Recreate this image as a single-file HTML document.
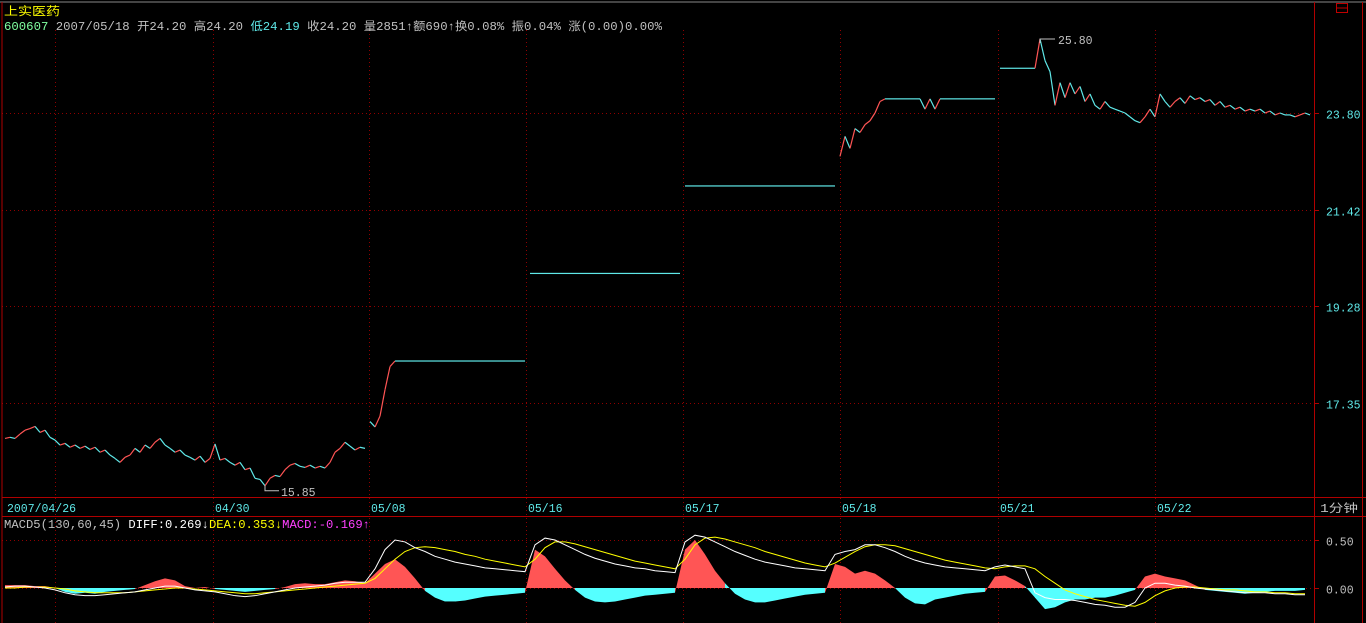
<!DOCTYPE html>
<html><head><meta charset="utf-8">
<style>
html,body{margin:0;padding:0;background:#000;width:1366px;height:623px;overflow:hidden}
svg{display:block}
text{font-family:"Liberation Mono","Noto Sans CJK SC",monospace;font-size:11.5px}
</style></head>
<body>
<svg id="chart" width="1366" height="623" viewBox="0 0 1366 623" xmlns="http://www.w3.org/2000/svg">
<rect x="0" y="0" width="1366" height="623" fill="#000"/>
<g id="grid"></g>
<g id="frame">
<line x1="0" y1="2" x2="1366" y2="2" stroke="#888" stroke-width="1"/>
<line x1="2" y1="2" x2="2" y2="623" stroke="#b00000"/>
<line x1="1314.5" y1="2" x2="1314.5" y2="623" stroke="#b00000"/>
<line x1="1362.5" y1="2" x2="1362.5" y2="623" stroke="#b00000"/>
<line x1="2" y1="497.5" x2="1366" y2="497.5" stroke="#b00000"/>
<line x1="2" y1="516.5" x2="1366" y2="516.5" stroke="#b00000"/>
</g>
<text x="4" y="15" fill="#ffff00" font-size="13" textLength="56" lengthAdjust="spacingAndGlyphs">上实医药</text>
<text x="4" y="30" textLength="658" lengthAdjust="spacingAndGlyphs"><tspan fill="#80ffa0">600607</tspan><tspan fill="#c0c0c0"> 2007/05/18 开24.20 高24.20 </tspan><tspan fill="#5fe8e8">低24.19</tspan><tspan fill="#c0c0c0"> 收24.20 量2851↑额690↑换0.08% 振0.04% 涨(0.00)0.00%</tspan></text>
<rect x="1336.5" y="3.5" width="11" height="9" fill="none" stroke="#c00000"/>
<line x1="1336" y1="8" x2="1348" y2="8" stroke="#c00000"/>
<text x="1320" y="512" fill="#c0c0c0" textLength="38" lengthAdjust="spacingAndGlyphs">1分钟</text>
<text x="4" y="528" textLength="366" lengthAdjust="spacingAndGlyphs"><tspan fill="#c0c0c0">MACD5(130,60,45) </tspan><tspan fill="#ffffff">DIFF:0.269↓</tspan><tspan fill="#ffff00">DEA:0.353↓</tspan><tspan fill="#ff40ff">MACD:-0.169↑</tspan></text>
<g id="yaxis"></g>
<g id="xaxis"></g>
<g id="price"></g>
<g id="macd"></g>
<g id="ann"></g>
</svg>
<script>
const priceTicks=[23.80,21.42,19.28,17.35];
const macdTicks=[0.50,0.00];
const dateLabels=["2007/04/26","04/30","05/08","05/16","05/17","05/18","05/21","05/22"];
const dateIdx=[0,41.6,72.8,104.2,135.6,167,198.6,230];
const gapIdx=[72.8,104.2,135.6,167,198.6];
const prices=[16.69,16.71,16.69,16.77,16.84,16.87,16.91,16.80,16.84,16.71,16.66,16.57,16.60,16.53,16.57,16.51,16.55,16.49,16.53,16.44,16.48,16.39,16.33,16.26,16.35,16.39,16.51,16.44,16.57,16.51,16.62,16.69,16.57,16.51,16.44,16.48,16.39,16.35,16.30,16.37,16.26,16.33,
16.59,16.30,16.33,16.26,16.21,16.26,16.13,16.16,15.98,15.96,15.85,15.98,16.03,16.01,16.13,16.21,16.24,16.19,16.17,16.21,16.16,16.19,16.16,16.26,16.44,16.51,16.62,16.55,16.48,16.53,16.51,
17.00,16.90,17.10,17.60,18.05,18.16,18.16,18.16,18.16,18.16,18.16,18.16,18.16,18.16,18.16,18.16,18.16,18.16,18.16,18.16,18.16,18.16,18.16,18.16,18.16,18.16,18.16,18.16,18.16,18.16,18.16,18.16,
19.98,19.98,19.98,19.98,19.98,19.98,19.98,19.98,19.98,19.98,19.98,19.98,19.98,19.98,19.98,19.98,19.98,19.98,19.98,19.98,19.98,19.98,19.98,19.98,19.98,19.98,19.98,19.98,19.98,19.98,19.98,
21.98,21.98,21.98,21.98,21.98,21.98,21.98,21.98,21.98,21.98,21.98,21.98,21.98,21.98,21.98,21.98,21.98,21.98,21.98,21.98,21.98,21.98,21.98,21.98,21.98,21.98,21.98,21.98,21.98,21.98,21.98,
22.70,23.20,22.90,23.40,23.30,23.50,23.60,23.80,24.10,24.17,24.17,24.17,24.17,24.17,24.17,24.17,24.17,23.90,24.17,23.90,24.17,24.17,24.17,24.17,24.17,24.17,24.17,24.17,24.17,24.17,24.17,24.17,
24.99,24.99,24.99,24.99,24.99,24.99,24.99,24.99,25.80,25.20,24.90,24.00,24.60,24.20,24.60,24.30,24.50,24.10,24.30,24.00,23.90,24.10,23.95,23.90,23.85,23.80,23.70,23.60,23.55,23.70,23.90,23.70,
24.30,24.10,23.95,24.10,24.20,24.05,24.25,24.15,24.20,24.10,24.15,24.00,24.10,23.95,24.00,23.90,23.95,23.85,23.90,23.85,23.90,23.80,23.85,23.75,23.80,23.75,23.75,23.70,23.75,23.80,23.75];
const macdHist=[.03,.03,.03,.02,.02,0,-.04,-.06,-.05,-.06,-.04,-.03,-.02,-.01,.03,.07,.1,.08,.02,0,.01,-.01,-.02,-.03,-.04,-.03,-.02,-.01,.01,.04,.05,.04,.04,.06,.08,.07,.05,.15,.25,.3,.22,.1,-.03,-.1,-.14,-.14,-.13,-.11,-.09,-.08,-.07,-.06,-.05,.4,.33,.2,.08,-.02,-.1,-.14,-.15,-.14,-.12,-.1,-.08,-.07,-.06,-.05,.4,.5,.35,.18,.05,-.06,-.12,-.15,-.15,-.13,-.11,-.09,-.07,-.06,-.05,.25,.22,.15,.18,.15,.08,0,-.1,-.16,-.17,-.12,-.1,-.08,-.06,-.05,-.04,.12,.13,.08,.02,-.1,-.22,-.2,-.15,-.12,-.12,-.1,-.1,-.08,-.05,-.02,.12,.15,.12,.1,.08,.03,-.02,-.03,-.04,-.05,-.06,-.05,-.04,-.03,-.03,-.03,-.02];
const diffVals=[.01,.02,.02,.01,0,-.02,-.05,-.07,-.08,-.08,-.07,-.06,-.05,-.04,-.02,0,.02,.02,0,-.02,-.03,-.04,-.06,-.08,-.09,-.08,-.06,-.04,-.02,0,.01,.02,.03,.05,.06,.06,.06,.2,.4,.5,.48,.42,.38,.33,.3,.27,.25,.23,.21,.2,.19,.18,.17,.45,.52,.5,.45,.4,.35,.31,.28,.25,.23,.21,.2,.18,.17,.16,.48,.55,.53,.48,.43,.38,.34,.3,.27,.25,.23,.21,.2,.19,.18,.35,.38,.4,.45,.45,.42,.38,.33,.29,.26,.24,.22,.21,.2,.19,.18,.22,.24,.22,.2,-.05,-.1,-.12,-.12,-.13,-.15,-.17,-.18,-.2,-.2,-.15,0,.05,.05,.03,.02,0,-.01,-.02,-.03,-.04,-.05,-.05,-.05,-.06,-.06,-.07,-.07];
const deaVals=[0,0,.01,.01,.01,0,-.01,-.03,-.04,-.05,-.05,-.05,-.05,-.04,-.03,-.02,-.01,0,0,-.01,-.02,-.03,-.04,-.05,-.06,-.06,-.05,-.04,-.03,-.02,-.01,0,.01,.02,.03,.04,.05,.1,.2,.3,.38,.42,.43,.42,.4,.38,.35,.33,.3,.28,.26,.24,.22,.3,.42,.48,.48,.46,.43,.4,.37,.34,.31,.28,.26,.24,.22,.2,.3,.45,.52,.53,.51,.48,.45,.42,.38,.35,.32,.29,.26,.24,.22,.26,.32,.38,.43,.45,.45,.44,.41,.38,.35,.32,.29,.27,.25,.23,.21,.2,.22,.23,.23,.2,.12,.05,-.02,-.06,-.09,-.12,-.14,-.16,-.18,-.19,-.15,-.08,-.03,0,.01,.01,0,-.01,-.02,-.02,-.03,-.04,-.04,-.05,-.05,-.06,-.06];

const NS="http://www.w3.org/2000/svg";
function mk(tag,attrs,parent){const e=document.createElementNS(NS,tag);for(const k in attrs)e.setAttribute(k,attrs[k]);parent.appendChild(e);return e;}
const X0=5,STEP=5,MSTEP=10;
const xP=i=>X0+i*STEP;
const xM=i=>X0+i*MSTEP;
const yP=p=>113-(Math.log(p)-Math.log(23.8))*917;
const yM=v=>588-v*96;
const grid=document.getElementById('grid');
dateIdx.forEach((d,k)=>{ if(k===0) return;
  const l=mk('line',{x1:Math.round(xP(d))+0.5,y1:30,x2:Math.round(xP(d))+0.5,y2:623,stroke:'#900000','stroke-dasharray':'1,3'},grid);
  
  
});
[55].forEach(x=>{const l=mk('line',{x1:x+0.5,y1:30,x2:x+0.5,y2:623,stroke:'#900000','stroke-dasharray':'1,3'},grid);
  
  });
const ya=document.getElementById('yaxis');
priceTicks.forEach(p=>{const y=Math.round(yP(p))+0.5;
  const l=mk('line',{x1:2,y1:y,x2:1314,y2:y,stroke:'#900000','stroke-dasharray':'1,3'},grid);
  
  
  mk('line',{x1:1314,y1:y,x2:1319,y2:y,stroke:'#b00000'},ya);
  const t=mk('text',{x:1326,y:y+5,fill:'#5fe8e8'},ya);t.textContent=p.toFixed(2);
  
  
});
macdTicks.forEach(v=>{const y=Math.round(yM(v))+0.5;
  const l=mk('line',{x1:2,y1:y,x2:1314,y2:y,stroke:'#900000','stroke-dasharray':'1,3'},grid);
  
  
  mk('line',{x1:1314,y1:y,x2:1319,y2:y,stroke:'#b00000'},ya);
  const t=mk('text',{x:1326,y:y+5,fill:'#c0c0c0'},ya);t.textContent=v.toFixed(2);
  
  
});
const xa=document.getElementById('xaxis');
dateLabels.forEach((s,k)=>{const t=mk('text',{x:xP(dateIdx[k])+2,y:512,fill:'#5fe8e8'},xa);t.textContent=s;
  
  });
const pg=document.getElementById('price');
for(let i=1;i<prices.length;i++){
  if(gapIdx.some(d=>d>i-1 && d<=i)) continue;
  const up=prices[i]>prices[i-1];
  const l=mk('line',{x1:xP(i-1),y1:yP(prices[i-1]),x2:xP(i),y2:yP(prices[i]),stroke:up?'#ff5555':'#5fe8e8','stroke-width':1.2},pg);
  
  
}
const mg=document.getElementById('macd');
for(let i=1;i<macdHist.length;i++){
  const a=macdHist[i-1],b=macdHist[i];
  const poly=mk('polygon',{points:`${xM(i-1)},${yM(0)} ${xM(i-1)},${yM(a)} ${xM(i)},${yM(b)} ${xM(i)},${yM(0)}`,fill:((a+b)/2>=0)?'#ff5555':'#55ffff'},mg);
  
  
}
function line(vals,color,name){
  const d=vals.map((v,i)=>(i?'L':'M')+xM(i)+','+yM(v)).join(' ');
  const p=mk('path',{d:d,fill:'none',stroke:color,'stroke-width':1},mg);
  
  
}
line(deaVals,'#ffff00','dea-line');
line(diffVals,'#ffffff','diff-line');
const an=document.getElementById('ann');
let mi=0,ma=0;prices.forEach((p,i)=>{if(p<prices[mi])mi=i;if(p>prices[ma])ma=i;});
mk('polyline',{points:`${xP(mi)},${yP(prices[mi])} ${xP(mi)},${yP(prices[mi])+5} ${xP(mi)+14},${yP(prices[mi])+5}`,fill:'none',stroke:'#c0c0c0'},an);
const tmin=mk('text',{x:xP(mi)+16,y:yP(prices[mi])+10,fill:'#c0c0c0'},an);tmin.textContent=prices[mi].toFixed(2);


mk('polyline',{points:`${xP(ma)},${yP(prices[ma])+4} ${xP(ma)},${yP(prices[ma])} ${xP(ma)+15},${yP(prices[ma])}`,fill:'none',stroke:'#c0c0c0'},an);
const tmax=mk('text',{x:xP(ma)+18,y:yP(prices[ma])+5,fill:'#c0c0c0'},an);tmax.textContent=prices[ma].toFixed(2);


</script>
</body></html>
